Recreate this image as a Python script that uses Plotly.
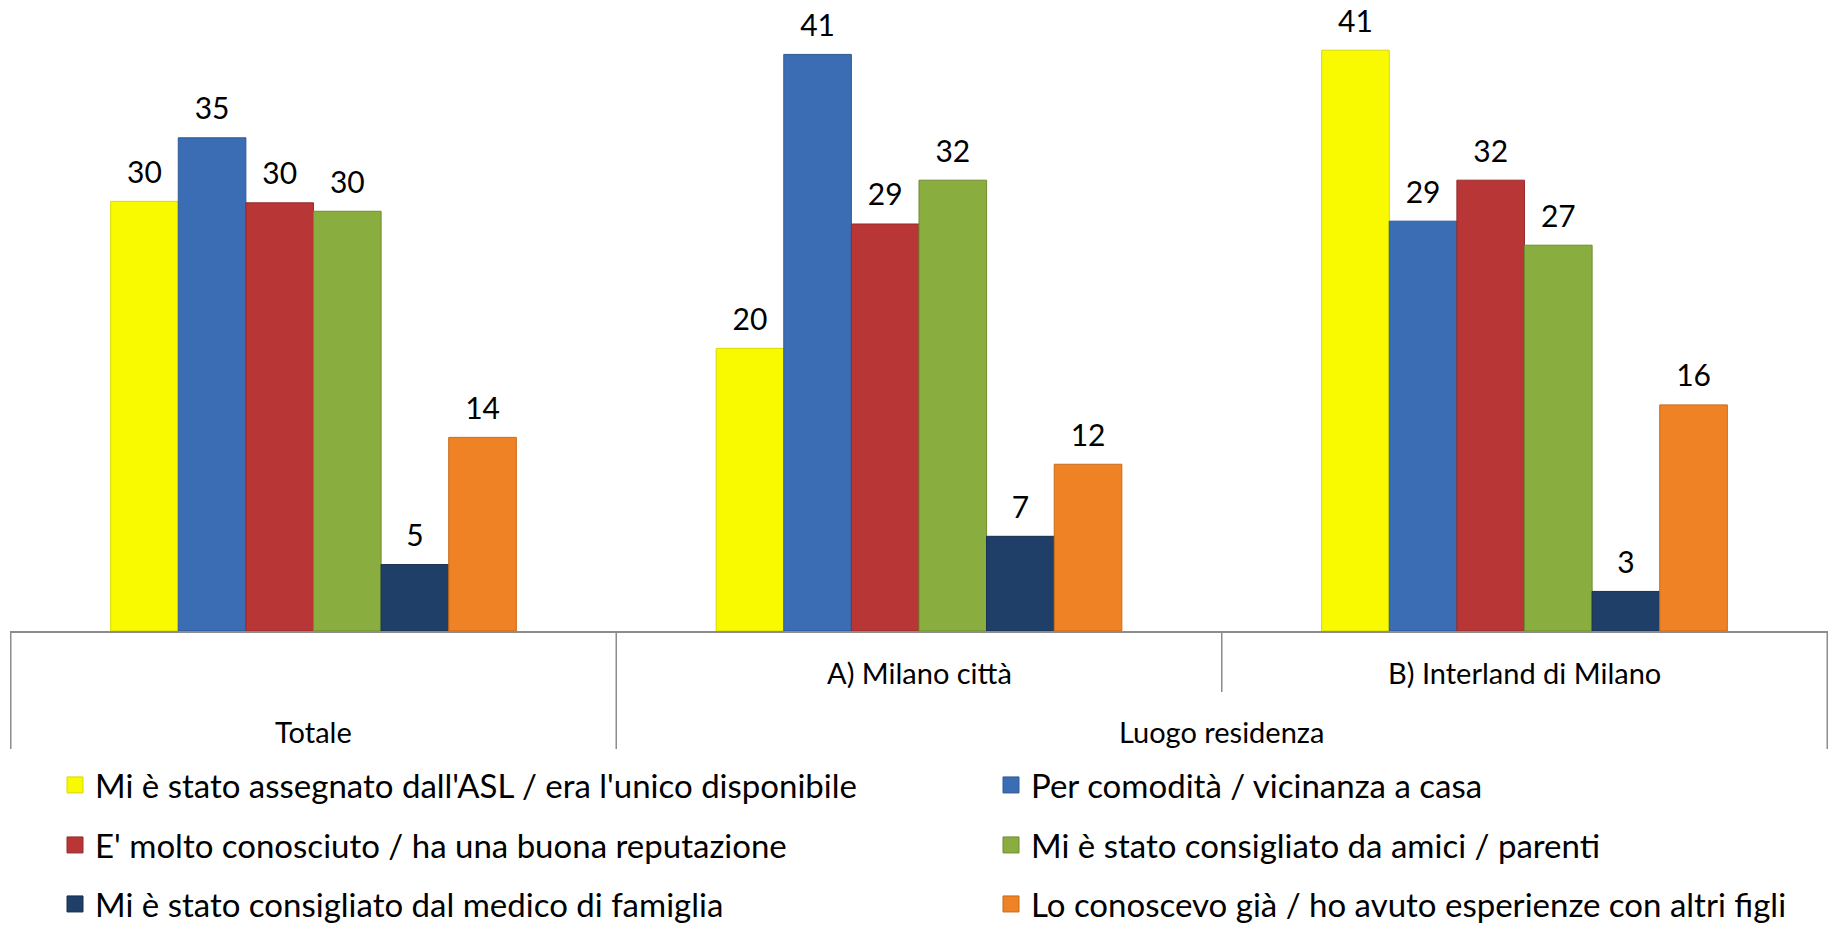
import plotly.graph_objects as go

categories = ["Totale", "A) Milano città", "B) Interland di Milano"]
group_label = "Luogo residenza"

series_names = [
    "Mi è stato assegnato dall'ASL / era l'unico disponibile",
    "Per comodità / vicinanza a casa",
    "E' molto conosciuto / ha una buona reputazione",
    "Mi è stato consigliato da amici / parenti",
    "Mi è stato consigliato dal medico di famiglia",
    "Lo conoscevo già / ho avuto esperienze con altri figli",
]

assegnato_asl = [30.4, 20.0, 41.1]
comodita = [34.9, 40.8, 29.0]
conosciuto = [30.3, 28.8, 31.9]
amici_parenti = [29.7, 31.9, 27.3]
medico = [4.7, 6.7, 2.8]
conoscevo = [13.7, 11.8, 16.0]

series_values = [assegnato_asl, comodita, conosciuto, amici_parenti, medico, conoscevo]
colors = ["#F9F900", "#3A6DB3", "#B83636", "#8AAD3F", "#203F68", "#EE8224"]
line_colors = ["#D8D800", "#2D5A96", "#962B2B", "#6F8C31", "#162E4E", "#C96A18"]
legend_ids = ["legend", "legend2", "legend3", "legend4", "legend5", "legend6"]

FONT = "Lato, Carlito, Calibri, sans-serif"

fig = go.Figure()
for i, (name, vals) in enumerate(zip(series_names, series_values)):
    fig.add_trace(go.Bar(
        x=categories, y=vals, name=name,
        marker=dict(color=colors[i], line=dict(color=line_colors[i], width=1)),
        offsetgroup=str(i), showlegend=False,
    ))
for i, vals in enumerate(series_values):
    fig.add_trace(go.Scatter(
        x=categories, y=vals, mode="markers+text",
        text=[f"{v:.0f}" for v in vals], textposition="top center",
        textfont=dict(family=FONT, size=30, color="#000000"),
        marker=dict(size=16, color="rgba(0,0,0,0)"),
        offsetgroup=str(i), showlegend=False, hoverinfo="skip",
        cliponaxis=False,
    ))
# legend entries (square swatches)
for i, name in enumerate(series_names):
    fig.add_trace(go.Scatter(
        x=[None], y=[None], mode="markers", name=name,
        marker=dict(symbol="square", size=16, color=colors[i],
                    line=dict(color=line_colors[i], width=1)),
        offsetgroup=str(i), legend=legend_ids[i], showlegend=True,
    ))

H_PLOT = 631.0
L_MARGIN = 10.0
W_PLOT = 1818.0
def py(ypix):
    return (H_PLOT - ypix) / H_PLOT
def px(xpix):
    return (xpix - L_MARGIN) / W_PLOT

grid = "#8C8C8C"
shapes = [
    dict(type="line", xref="x", yref="paper", x0=-0.5, x1=-0.5, y0=0, y1=py(749), line=dict(color=grid, width=1.5)),
    dict(type="line", xref="x", yref="paper", x0=0.5, x1=0.5, y0=0, y1=py(749), line=dict(color=grid, width=1.5)),
    dict(type="line", xref="x", yref="paper", x0=1.5, x1=1.5, y0=0, y1=py(692), line=dict(color=grid, width=1.5)),
    dict(type="line", xref="x", yref="paper", x0=2.5, x1=2.5, y0=0, y1=py(749), line=dict(color=grid, width=1.5)),
]

lab_font = dict(family=FONT, size=29, color="#000000")
annotations = [
    dict(x=categories[1], y=py(673), xref="x", yref="paper", text=categories[1], showarrow=False,
         font=lab_font, yanchor="middle"),
    dict(x=categories[2], y=py(673), xref="x", yref="paper", text=categories[2], showarrow=False,
         font=lab_font, yanchor="middle"),
    dict(x=categories[0], y=py(732), xref="x", yref="paper", text=categories[0], showarrow=False,
         font=lab_font, yanchor="middle"),
    dict(x=1.5, y=py(732), xref="x", yref="paper", text=group_label, showarrow=False,
         font=lab_font, yanchor="middle"),
]

leg_common = dict(orientation="v", xanchor="left", yanchor="middle",
                  font=dict(family=FONT, size=33, color="#000000"),
                  bgcolor="rgba(0,0,0,0)", borderwidth=0, itemsizing="trace")
col_x = [px(55), px(991)]
row_y = [py(785), py(845), py(904)]
legend_layout = {}
for i, lid in enumerate(legend_ids):
    legend_layout[lid] = dict(**leg_common, x=col_x[i % 2], y=row_y[i // 2])

fig.update_layout(
    width=1832, height=925,
    margin=dict(l=10, r=4, t=0, b=294, autoexpand=False),
    paper_bgcolor="white", plot_bgcolor="white",
    barmode="group", bargap=0.33, bargroupgap=0,
    scattermode="group", scattergap=0.33,
    xaxis=dict(type="category", showticklabels=False, ticks="", showgrid=False,
               showline=True, linecolor=grid, linewidth=2, zeroline=False),
    yaxis=dict(range=[0, 44.65], visible=False, showgrid=False, zeroline=False),
    showlegend=True,
    shapes=shapes, annotations=annotations,
    font=dict(family=FONT),
    **legend_layout,
)

fig.write_html("out.html", config={"displayModeBar": False},
               post_script="document.body.style.margin='0px';")
